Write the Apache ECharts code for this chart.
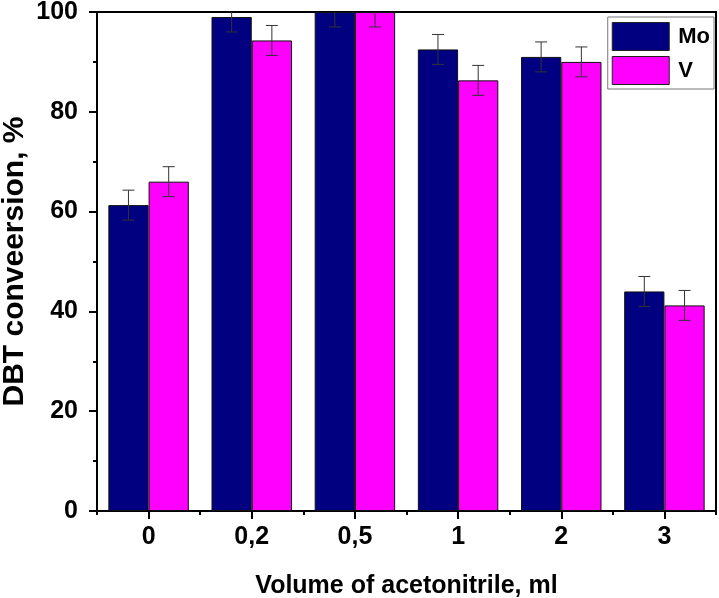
<!DOCTYPE html>
<html><head><meta charset="utf-8">
<script src="https://cdn.jsdelivr.net/npm/echarts@6/dist/echarts.min.js"></script>
<style>html,body{margin:0;padding:0;background:#fff}#c{width:719px;height:598px}</style>
</head><body><div id="c"></div>
<script>
var categories = ['0', '0,2', '0,5', '1', '2', '3'];
var moValues = [61.3, 99.0, 100.0, 92.5, 91.0, 44.0];
var vValues = [66.0, 94.3, 100.0, 86.3, 90.0, 41.2];
var moErr = [3.0, 3.0, 3.0, 3.0, 3.0, 3.0];
var vErr = [3.0, 3.0, 3.0, 3.0, 3.0, 3.0];
var yTicks = [0, 20, 40, 60, 80, 100];

var catGap = 0.22;
function errData(vals, errs) {
  return vals.map(function (v, i) { return [i, v - errs[i], v + errs[i]]; });
}
function errRender(side) {
  return function (params, api) {
    var xi = api.value(0);
    var lo = api.coord([xi, api.value(1)]);
    var hi = api.coord([xi, api.value(2)]);
    var band = api.size([1, 0])[0];
    var bw = band * (1 - catGap) / 2;
    var x = lo[0] + side * bw / 2;
    var cap = 6;
    var st = { stroke: '#333', lineWidth: 1 };
    return {
      type: 'group',
      children: [
        { type: 'line', shape: { x1: x, y1: lo[1], x2: x, y2: hi[1] }, style: st },
        { type: 'line', shape: { x1: x - cap, y1: lo[1], x2: x + cap, y2: lo[1] }, style: st },
        { type: 'line', shape: { x1: x - cap, y1: hi[1], x2: x + cap, y2: hi[1] }, style: st }
      ]
    };
  };
}

var chart = echarts.init(document.getElementById('c'), null, { renderer: 'canvas' });
var tickFont = { fontFamily: 'Liberation Sans', fontWeight: 'bold', fontSize: 25, color: '#000' };
chart.setOption({
  animation: false,
  grid: { left: 97, right: 3, top: 12, bottom: 87, containLabel: false, outerBoundsMode: 'none',
    show: true, borderColor: '#000', borderWidth: 2, backgroundColor: 'transparent' },
  legend: {
    orient: 'vertical', right: 5, top: 17,
    icon: 'rect',
    itemWidth: 57, itemHeight: 28, itemGap: 5,
    padding: [5, 4, 4, 4],
    borderColor: '#777', borderWidth: 1, backgroundColor: '#fff',
    textStyle: { fontFamily: 'Liberation Sans', fontWeight: 'bold', fontSize: 22, color: '#000', padding: [0, 0, 0, 4] },
    itemStyle: { borderColor: '#222', borderWidth: 1 },
    data: ['Mo', 'V']
  },
  xAxis: [{
    type: 'category', data: categories, position: 'bottom',
    axisLine: { show: true, lineStyle: { color: '#000', width: 2 } },
    axisTick: { show: true, alignWithLabel: true, length: 8, lineStyle: { color: '#000', width: 2 } },
    axisLabel: Object.assign({ margin: 14 }, tickFont),
    name: 'Volume of acetonitrile, ml', nameLocation: 'middle', nameGap: 63, nameMoveOverlap: false,
    nameTextStyle: { fontFamily: 'Liberation Sans', fontWeight: 'bold', fontSize: 25, color: '#000' }
  }, {
    type: 'category', data: categories, position: 'bottom',
    axisLine: { show: false },
    axisTick: { show: true, alignWithLabel: false, length: 4, lineStyle: { color: '#000', width: 2 } },
    axisLabel: { show: false }
  }],
  yAxis: {
    type: 'value', min: 0, max: 100, interval: 20,
    axisLine: { show: true, lineStyle: { color: '#000', width: 2 } },
    axisTick: { show: true, length: 8, lineStyle: { color: '#000', width: 2 } },
    minorTick: { show: true, splitNumber: 2, length: 4, lineStyle: { color: '#000', width: 2 } },
    splitLine: { show: false },
    axisLabel: Object.assign({ margin: 19, formatter: function (v) { return yTicks.indexOf(v) >= 0 ? String(v) : ''; } }, tickFont),
    name: 'DBT conveersion, %', nameLocation: 'middle', nameGap: 67, nameRotate: 90, nameMoveOverlap: false,
    nameTextStyle: { fontFamily: 'Liberation Sans', fontWeight: 'bold', fontSize: 30, color: '#000' }
  },
  series: [
    { name: 'Mo', type: 'bar', data: moValues, barGap: '0%', barCategoryGap: (catGap * 100) + '%',
      itemStyle: { color: '#000080', borderColor: '#111', borderWidth: 1 } },
    { name: 'V', type: 'bar', data: vValues, barGap: '0%', barCategoryGap: (catGap * 100) + '%',
      itemStyle: { color: '#FF00FF', borderColor: '#111', borderWidth: 1 } },
    { name: 'MoErr', type: 'custom', data: errData(moValues, moErr), renderItem: errRender(-1), clip: true, z: 5, encode: { x: 0, y: [1, 2] } },
    { name: 'VErr', type: 'custom', data: errData(vValues, vErr), renderItem: errRender(1), clip: true, z: 5, encode: { x: 0, y: [1, 2] } }
  ]
});
</script>
</body></html>
